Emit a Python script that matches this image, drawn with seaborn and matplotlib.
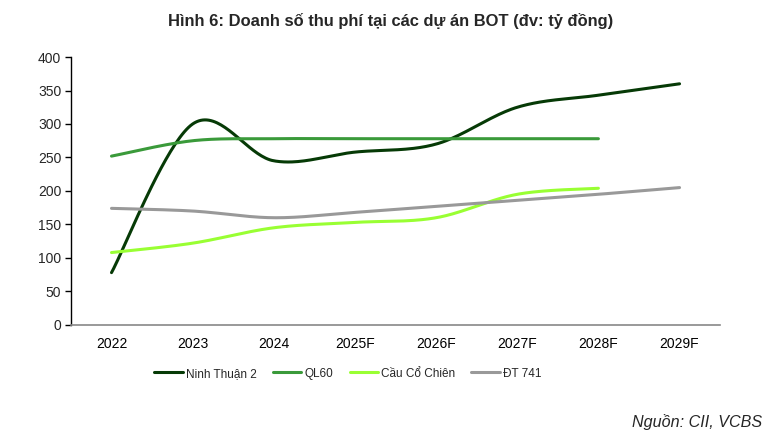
import numpy as np
import pandas as pd
import matplotlib
matplotlib.use('Agg')
import matplotlib.pyplot as plt
import seaborn as sns

######################################## data ########################################
years = ['2022', '2023', '2024', '2025F', '2026F', '2027F', '2028F', '2029F']
ninhThuan = [78, 300, 245, 258, 270, 325, 343, 360]
ql60 = [252, 275, 278, 278, 278, 278, 278]
coChien = [108, 122, 145, 153, 160, 195, 204]
dt741 = [174, 170, 160, 168, 177, 186, 195, 205]

seriesNames = ['Ninh Thuận 2', 'QL60', 'Cầu Cổ Chiên', 'ĐT 741']
seriesValues = [ninhThuan, ql60, coChien, dt741]
colors = ['#063a06', '#3a9a3a', '#99ff33', '#999999']

######################################## smoothing (excel-like bezier) ########################################
def smoothLine(vals, n=40):
    pts = np.array(vals, dtype=float)
    xs = np.arange(len(pts), dtype=float)
    outX, outY = [], []
    for i in range(len(pts) - 1):
        p0 = (xs[i - 1], pts[i - 1]) if i > 0 else (xs[i], pts[i])
        p1 = (xs[i], pts[i])
        p2 = (xs[i + 1], pts[i + 1])
        p3 = (xs[i + 2], pts[i + 2]) if i + 2 < len(pts) else (xs[i + 1], pts[i + 1])
        c1 = (p1[0] + (p2[0] - p0[0]) / 6, p1[1] + (p2[1] - p0[1]) / 6)
        c2 = (p2[0] - (p3[0] - p1[0]) / 6, p2[1] - (p3[1] - p1[1]) / 6)
        t = np.linspace(0, 1, n, endpoint=(i == len(pts) - 2))
        for a, b in [(0, outX), (1, outY)]:
            b.extend((1 - t) ** 3 * p1[a] + 3 * (1 - t) ** 2 * t * c1[a]
                     + 3 * (1 - t) * t ** 2 * c2[a] + t ** 3 * p2[a])
    return outX, outY

rows = []
for name, vals in zip(seriesNames, seriesValues):
    sx, sy = smoothLine(vals)
    for a, b in zip(sx, sy):
        rows.append({'x': a, 'y': b, 'series': name})
df = pd.DataFrame(rows)

######################################## plot ########################################
sns.set_theme(style='white')
plt.rcParams['font.family'] = ['Liberation Sans', 'DejaVu Sans']

fig = plt.figure(figsize=(7.71, 4.32), dpi=100)
ax = fig.add_axes([0.092, 0.248, 0.842, 0.62])

sns.lineplot(data=df, x='x', y='y', hue='series', hue_order=seriesNames,
             palette=colors, linewidth=2.2, sort=False, estimator=None, ax=ax)

ax.set_xlim(-0.5, len(years) - 0.5)
ax.set_ylim(0, 400)
ax.set_yticks(range(0, 401, 50))
ax.set_xticks(range(len(years)))
ax.set_xticklabels(years)
ax.set_xticks(np.arange(-0.5, len(years), 1), minor=True)
ax.tick_params(axis='x', which='major', length=0, labelsize=10, pad=9, colors='black')
ax.tick_params(axis='x', which='minor', length=4, width=1, color='#888888', direction='out')
ax.tick_params(axis='y', length=4, width=1, color='black', labelsize=10, direction='out', left=True, pad=3)
ax.set_xlabel('')
ax.set_ylabel('')
for s in ['top', 'right']:
    ax.spines[s].set_visible(False)
ax.spines['left'].set_color('black')
ax.spines['left'].set_linewidth(1)
ax.spines['bottom'].set_color('#888888')
ax.spines['bottom'].set_linewidth(1.2)

ax.legend(loc='upper center', bbox_to_anchor=(0.427, -0.12), ncol=4, frameon=False,
          fontsize=8.5, handlelength=2.4, handletextpad=0.3, columnspacing=1.35)

fig.text(0.507, 0.951, 'Hình 6: Doanh số thu phí tại các dự án BOT (đv: tỷ đồng)',
         ha='center', va='center', fontsize=11.9, fontweight='bold')
fig.text(0.988, 0.023, 'Nguồn: CII, VCBS', ha='right', va='center',
         fontsize=11.6, style='italic')

plt.savefig('out.png', dpi=100)
